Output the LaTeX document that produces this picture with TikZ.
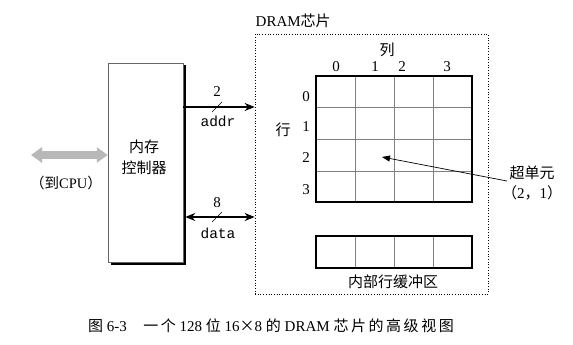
\documentclass[tikz,border=0pt]{standalone}
\usepackage{fontspec}
\setmainfont{Liberation Serif}
\setmonofont{Liberation Mono}
\newfontfamily\cjk{Noto Sans CJK SC}
\newfontfamily\cjkwide[LetterSpace=17]{Noto Sans CJK SC}
\usetikzlibrary{arrows.meta}
\begin{document}
\begin{tikzpicture}[x=1pt,y=-1pt,
  ctrlbox/.style={draw=black!60, line width=0.5pt, fill=white, minimum width=75pt, minimum height=199pt, inner sep=0pt},
  chipbox/.style={draw, dotted, line width=0.7pt, minimum width=233pt, minimum height=260pt, inner sep=0pt},
  cellbox/.style={draw, line width=1.4pt, inner sep=0pt},
  bus/.style={line width=1.7pt, -{Stealth[length=10pt,width=8pt]}},
  busboth/.style={line width=1.7pt, {Stealth[length=10pt,width=8pt]}-{Stealth[length=10pt,width=8pt]}},
  slash/.style={line width=0.6pt},
  lbl/.style={inner sep=0pt, font=\fontsize{15}{17}\selectfont},
  cn/.style={inner sep=0pt, font=\cjk\fontsize{15}{18}\selectfont},
  sig/.style={inner sep=0pt, font=\ttfamily\fontsize{14.5}{16}\selectfont},
  gridline/.style={draw=black!50, line width=0.6pt}]
\useasboundingbox (0,0) rectangle (573,345);

% memory controller with its solid shadow
\fill[black] (110.5,65.5) rectangle (185.5,265);
\node[ctrlbox] (mc) at (145.5,162.5) {};
\node[cn, align=center, font=\cjk\fontsize{15}{21}\selectfont] (mctext) at (144,157) {内存\\控制器};

% link to the CPU
\coordinate (cpu) at (31,155);
\draw[line width=8pt, black!28, {Triangle[length=11pt,width=15pt]}-{Triangle[length=11pt,width=15pt]}]
  (cpu) -- (mc.west |- cpu);
\node[cn, font=\cjk\fontsize{14.5}{16}\selectfont] (cpulbl) at (66,183) {（到{\rmfamily CPU}）};

% DRAM chip outline
\node[chipbox] (chip) at (371.5,164) {};
\node[lbl, anchor=south west] (chiplbl) at (255.5,28)
  {DRAM{\cjk 芯片}};

% address and data buses
\draw[bus] (mc.east |- 0,107) coordinate (addrs) -- (chip.west |- addrs) coordinate (addre);
\draw[slash] (212,112) -- (222,102);
\node[lbl] (addrw) at (217,92) {2};
\node[sig] (addrlbl) at (218,121) {addr};

\draw[busboth] ([xshift=2pt]mc.east |- 0,217) coordinate (datas) -- (chip.west |- datas) coordinate (datae);
\draw[slash] (212,222) -- (222,212);
\node[lbl] (dataw) at (217,203) {8};
\node[sig] (datalbl) at (218,233) {data};

% supercell array
\node[cellbox, minimum width=156pt, minimum height=126pt] (grid) at (394,139) {};
\foreach \x in {355.5,394.5,433.5}
  \draw[gridline] (\x,76) -- (\x,202);
\foreach \y in {107,139,171}
  \draw[gridline] (316,\y) -- (472,\y);
\node[cellbox, minimum width=156pt, minimum height=126pt] at (394,139) {};

\node[cn] (collbl) at (387,50) {列};
\node[lbl] (c0) at (336,67) {0};
\node[lbl] (c1) at (375,67) {1};
\node[lbl] (c2) at (402,67) {2};
\node[lbl] (c3) at (447,67) {3};

\node[cn] (rowlbl) at (283,130) {行};
\node[lbl] (r0) at (306,97) {0};
\node[lbl] (r1) at (306,127) {1};
\node[lbl] (r2) at (306,158) {2};
\node[lbl] (r3) at (306,190) {3};

% internal row buffer
\node[cellbox, minimum width=156pt, minimum height=32pt] (buf) at (394,252) {};
\foreach \x in {355.5,394.5,433.5}
  \draw[gridline] (\x,236) -- (\x,268);
\node[cellbox, minimum width=156pt, minimum height=32pt] at (394,252) {};
\node[cn] (buflbl) at (393,282) {内部行缓冲区};

% supercell callout
\node[cn, align=center, font=\cjk\fontsize{15}{20}\selectfont] (sclbl) at (532,183)
  {超单元\\（{\rmfamily 2}，{\rmfamily 1}）};
\coordinate (scfrom) at (507,181);
\coordinate (cell) at (382,157);
\draw[line width=0.7pt, -{Triangle[length=8pt,width=6pt]}] (scfrom) -- (cell);

% caption
\node[inner sep=0pt, font=\fontsize{15}{17}\selectfont] (caption) at (271,326)
  {{\cjkwide 图} 6-3\hspace{1.1em}{\cjkwide 一个} 128 {\cjkwide 位} 16{\cjk ×}8 {\cjkwide 的} DRAM {\cjkwide 芯片的高级视图}};
\end{tikzpicture}
\end{document}
